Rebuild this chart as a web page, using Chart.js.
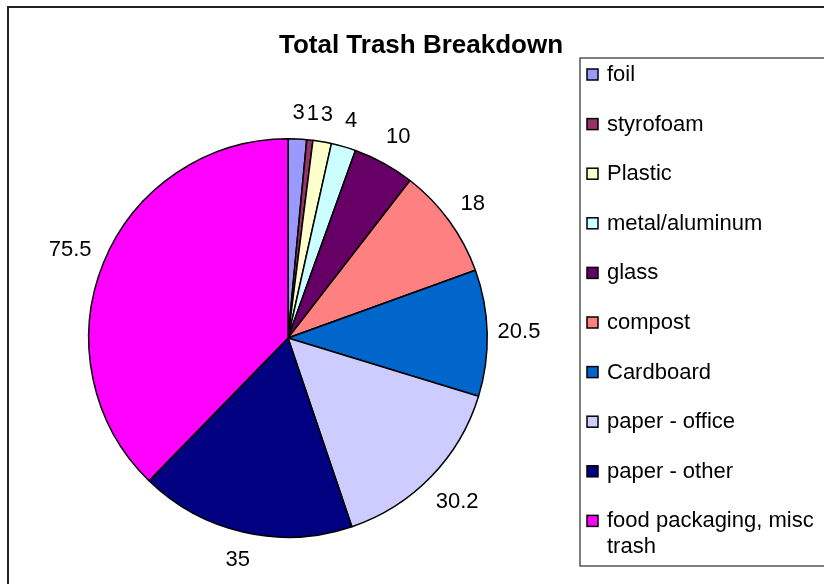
<!DOCTYPE html>
<html>
<head>
<meta charset="utf-8">
<title>Total Trash Breakdown</title>
<script src="https://cdn.jsdelivr.net/npm/chart.js@4.4.1/dist/chart.umd.min.js"></script>
<style>
    html, body { margin: 0; padding: 0; background: #fff; }
    #wrap { width: 824px; height: 584px; }
</style>
</head>
<body>
<div id="wrap"><canvas id="trashPie" width="824" height="584"></canvas></div>
<script>
// data
const categories = ['foil', 'styrofoam', 'Plastic', 'metal/aluminum', 'glass', 'compost',
    'Cardboard', 'paper - office', 'paper - other', 'food packaging, misc trash'];
const amounts = [3, 1, 3, 4, 10, 18, 20.5, 30.2, 35, 75.5];
const valueLabels = ['3', '1', '3', '4', '10', '18', '20.5', '30.2', '35', '75.5'];
const legendLines = [['foil'], ['styrofoam'], ['Plastic'], ['metal/aluminum'], ['glass'], ['compost'],
    ['Cardboard'], ['paper - office'], ['paper - other'], ['food packaging, misc', 'trash']];
const sliceColors = ['#9999FF', '#993366', '#FFFFCC', '#CCFFFF', '#660066', '#FF8080',
    '#0066CC', '#CCCCFF', '#000080', '#FF00FF'];

const FONT = '"Liberation Sans", Arial, sans-serif';

// outer frame, title, legend box and the value labels round the pie
const decorations = {
    id: 'decorations',
    beforeDraw(chart) {
        const ctx = chart.ctx;
        ctx.save();
        ctx.fillStyle = '#fff';
        ctx.fillRect(0, 0, chart.width, chart.height);
        ctx.strokeStyle = '#222';
        ctx.lineWidth = 2;
        ctx.strokeRect(8, 7, 900, 700);
        ctx.restore();
    },
    afterDraw(chart) {
        const ctx = chart.ctx;
        ctx.save();

        // title
        ctx.fillStyle = '#000';
        ctx.font = 'bold 26px ' + FONT;
        ctx.textAlign = 'center';
        ctx.textBaseline = 'middle';
        ctx.fillText('Total Trash Breakdown', 421, 46);

        // value labels outside each slice
        ctx.font = '22px ' + FONT;
        const meta = chart.getDatasetMeta(0);
        meta.data.forEach((arc, i) => {
            const p = arc.getProps(['x', 'y', 'startAngle', 'endAngle', 'outerRadius'], true);
            const mid = (p.startAngle + p.endAngle) / 2;
            const cx = Math.cos(mid), cy = Math.sin(mid);
            const w = ctx.measureText(valueLabels[i]).width;
            const dist = p.outerRadius + 10 + Math.abs(cx) * w / 2 + Math.abs(cy) * 16;
            ctx.fillText(valueLabels[i], p.x + cx * dist, p.y + cy * dist);
        });

        // legend
        ctx.strokeStyle = '#555';
        ctx.lineWidth = 1.5;
        ctx.strokeRect(580, 58, 300, 508);
        ctx.textAlign = 'left';
        ctx.font = '22px ' + FONT;
        legendLines.forEach((lines, i) => {
            const y = 75 + i * 49.6;
            ctx.fillStyle = sliceColors[i];
            ctx.fillRect(587, y - 6, 11, 11);
            ctx.strokeStyle = '#000';
            ctx.lineWidth = 1.5;
            ctx.strokeRect(587, y - 6, 11, 11);
            ctx.fillStyle = '#000';
            lines.forEach((t, j) => ctx.fillText(t, 607, y + j * 26));
        });
        ctx.restore();
    }
};

new Chart(document.getElementById('trashPie').getContext('2d'), {
    type: 'pie',
    data: {
        labels: categories,
        datasets: [{
            data: amounts,
            backgroundColor: sliceColors,
            borderColor: '#000',
            borderWidth: 1.5,
            hoverOffset: 0
        }]
    },
    options: {
        responsive: false,
        animation: false,
        events: [],
        layout: { padding: { left: 88, right: 336, top: 138, bottom: 46 } },
        plugins: {
            legend: { display: false },
            title: { display: false },
            tooltip: { enabled: false }
        }
    },
    plugins: [decorations]
});
</script>
</body>
</html>
